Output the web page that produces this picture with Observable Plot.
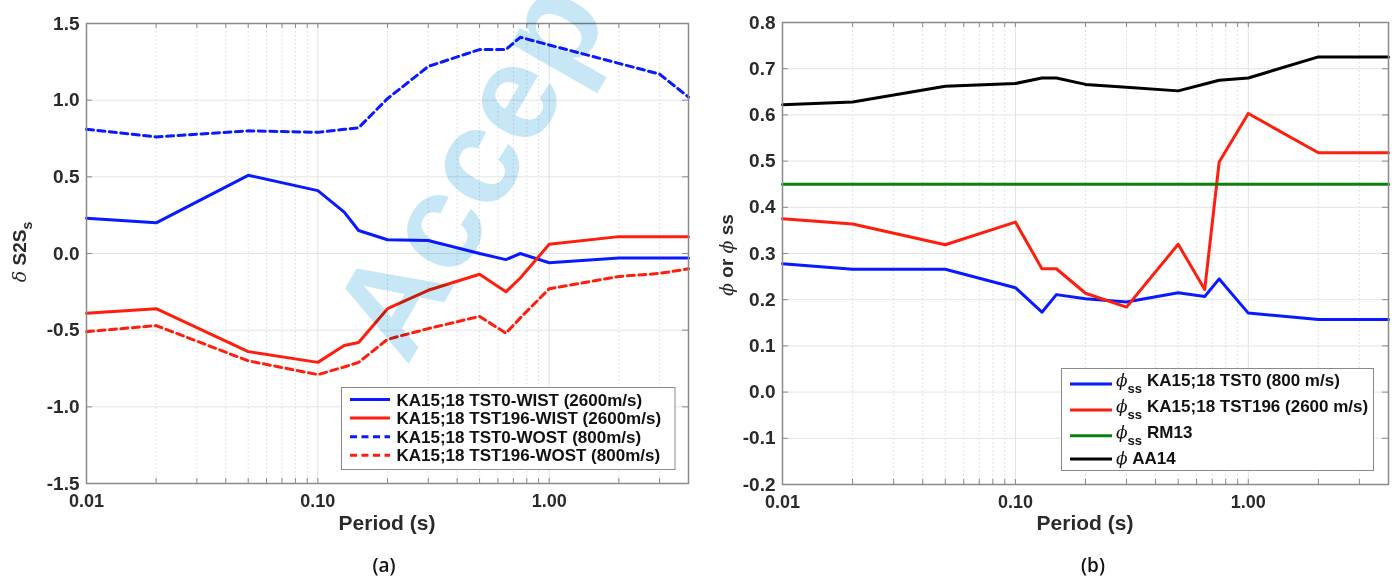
<!DOCTYPE html>
<html><head><meta charset="utf-8">
<script src="https://cdn.jsdelivr.net/npm/d3@7"></script>
<script src="https://cdn.jsdelivr.net/npm/@observablehq/plot@0.6"></script>
<style>
html,body{margin:0;padding:0;background:#fff;}
#root{position:relative;width:1397px;height:577px;overflow:hidden;font-family:"Liberation Sans",Arial,Helvetica,sans-serif;}
#root svg{position:absolute;top:0;}
#root svg text{font-weight:bold;}
</style></head><body><div id="root"></div>
<script>
// ---------- data ----------
const periods = [0.01, 0.02, 0.05, 0.1, 0.13, 0.15, 0.2, 0.3, 0.5, 0.65, 0.75, 1, 2, 3, 4];

// panel (a): delta S2S_s
const tst0Wist   = [0.23, 0.20, 0.51, 0.41, 0.27, 0.15, 0.09, 0.085, 0.0, -0.04, 0.0, -0.06, -0.03, -0.03, -0.03];
const tst196Wist = [-0.39, -0.36, -0.64, -0.71, -0.60, -0.58, -0.36, -0.24, -0.135, -0.25, -0.16, 0.06, 0.11, 0.11, 0.11];
const tst0Wost   = [0.81, 0.76, 0.80, 0.79, 0.81, 0.82, 1.01, 1.22, 1.33, 1.33, 1.41, 1.36, 1.24, 1.17, 1.02];
const tst196Wost = [-0.51, -0.47, -0.70, -0.79, -0.74, -0.71, -0.56, -0.49, -0.41, -0.52, -0.42, -0.23, -0.15, -0.13, -0.10];
const namesA = ["KA15;18 TST0-WIST (2600m/s)", "KA15;18 TST196-WIST (2600m/s)", "KA15;18 TST0-WOST (800m/s)", "KA15;18 TST196-WOST (800m/s)"];

// panel (b): phi / phi_ss
const phiSsTst0   = [0.278, 0.266, 0.266, 0.226, 0.173, 0.211, 0.202, 0.195, 0.215, 0.207, 0.245, 0.171, 0.157, 0.157, 0.157];
const phiSsTst196 = [0.375, 0.364, 0.319, 0.368, 0.267, 0.267, 0.214, 0.184, 0.32, 0.222, 0.498, 0.603, 0.518, 0.518, 0.518];
const phiSsRm13   = [0.45, 0.45, 0.45, 0.45, 0.45, 0.45, 0.45, 0.45, 0.45, 0.45, 0.45, 0.45, 0.45, 0.45, 0.45];
const phiAa14     = [0.622, 0.628, 0.662, 0.668, 0.68, 0.68, 0.666, 0.66, 0.652, 0.667, 0.675, 0.68, 0.7255, 0.7255, 0.7255];
const namesB = ["KA15;18 TST0 (800 m/s)", "KA15;18 TST196 (2600 m/s)", "RM13", "AA14"];
const symB = ["ss", "ss", "ss", ""];

// axes
const xMajor = [0.01, 0.1, 1];
const xMinor = [0.02,0.03,0.04,0.05,0.06,0.07,0.08,0.09,0.2,0.3,0.4,0.5,0.6,0.7,0.8,0.9,2,3,4];
const yTicksA = [-1.5, -1.0, -0.5, 0.0, 0.5, 1.0, 1.5];
const yTicksB = [-0.2, -0.1, 0.0, 0.1, 0.2, 0.3, 0.4, 0.5, 0.6, 0.7, 0.8];

// ---------- styles ----------
const BLUE = "#0a1aff", RED = "#ff1e0e", GREEN = "#0b800b", BLACK = "#000000";
const stylesA = [{c: BLUE, d: null}, {c: RED, d: null}, {c: BLUE, d: "7,4.5"}, {c: RED, d: "7,4.5"}];
const stylesB = [{c: BLUE}, {c: RED}, {c: GREEN}, {c: BLACK}];
const FONT = '"Liberation Sans", Arial, Helvetica, sans-serif';
const TXT = "#2a2a2a";

const valuesA = [tst0Wist, tst196Wist, tst0Wost, tst196Wost];
const valuesB = [phiSsTst0, phiSsTst196, phiSsRm13, phiAa14];
const tableA = namesA.flatMap((n, k) => periods.map((p, i) => ({series: n, period: p, value: valuesA[k][i]})));
const tableB = namesB.flatMap((n, k) => periods.map((p, i) => ({series: n, period: p, value: valuesB[k][i]})));

function panel({width, left, mL, mR, mT, mB, yDomain, yTicks, table, names, styles}) {
  const fh = 577 - mT - mB, fw = width - mL - mR;
  const chart = Plot.plot({
    width, height: 577,
    marginLeft: mL, marginRight: mR, marginTop: mT, marginBottom: mB,
    x: {type: "log", domain: [0.01, 4]},
    y: {domain: yDomain},
    style: {fontFamily: FONT, background: "transparent", color: TXT},
    marks: [
      Plot.ruleX(xMinor, {stroke: "#d8d8d8", strokeDasharray: "1.5,2.5", strokeWidth: 1}),
      Plot.ruleX(xMajor, {stroke: "#e2e2e2", strokeWidth: 1}),
      Plot.ruleY(yTicks, {stroke: "#e4e4e4", strokeWidth: 1}),
      Plot.tickX(xMajor.concat(xMinor), {insetTop: fh - 5, stroke: "#8a8a8a", strokeWidth: 1}),
      Plot.tickX(xMajor.concat(xMinor), {insetBottom: fh - 5, stroke: "#8a8a8a", strokeWidth: 1}),
      Plot.tickY(yTicks, {insetRight: fw - 6, stroke: "#8a8a8a", strokeWidth: 1}),
      Plot.tickY(yTicks, {insetLeft: fw - 6, stroke: "#8a8a8a", strokeWidth: 1}),
      ...names.map((n, k) => Plot.line(table.filter(d => d.series === n), {
        x: "period", y: "value", stroke: styles[k].c, strokeWidth: 3,
        strokeDasharray: styles[k].d || undefined, strokeLinejoin: "round"
      })),
      Plot.frame({stroke: "#8a8a8a", strokeWidth: 1.5}),
      Plot.axisX({ticks: xMajor, tickFormat: d => d.toFixed(2), tickSize: 0, tickPadding: 11,
        fontSize: 18, fontWeight: "bold", fill: TXT, label: null}),
      Plot.axisY({ticks: yTicks, tickFormat: d => d.toFixed(1), tickSize: 0, tickPadding: 7,
        fontSize: 19, fontWeight: "bold", fill: TXT, label: null})
    ]
  });
  chart.style.left = left + "px";
  return chart;
}

const root = document.getElementById("root");
root.appendChild(panel({width: 698, left: 0, mL: 86, mR: 10, mT: 23, mB: 94,
  yDomain: [-1.5, 1.5], yTicks: yTicksA, table: tableA, names: namesA, styles: stylesA}));
root.appendChild(panel({width: 699, left: 698, mL: 84, mR: 9, mT: 22, mB: 93,
  yDomain: [-0.2, 0.8], yTicks: yTicksB, table: tableB, names: namesB, styles: stylesB}));

// ---------- labels & legends overlay ----------
const ov = d3.select(root).append("svg").attr("width", 1397).attr("height", 577)
  .style("left", "0px").style("font-family", FONT).style("pointer-events", "none");

// y label (a)
const yla = ov.append("text").attr("transform", "translate(26,252) rotate(-90)")
  .attr("text-anchor", "middle").attr("font-size", 19).attr("fill", TXT);
yla.append("tspan").attr("font-family", '"DejaVu Serif", serif').attr("font-style", "italic").attr("font-weight", "normal").text("δ");
yla.append("tspan").text(" S2S");
yla.append("tspan").attr("font-size", 14).attr("dy", 6).text("s");

// y label (b)
const ylb = ov.append("text").attr("transform", "translate(733,255) rotate(-90)")
  .attr("text-anchor", "middle").attr("font-size", 19).attr("fill", TXT);
ylb.append("tspan").attr("font-family", '"DejaVu Serif", serif').attr("font-style", "italic").attr("font-weight", "normal").text("ϕ");
ylb.append("tspan").text(" or ");
ylb.append("tspan").attr("font-family", '"DejaVu Serif", serif').attr("font-style", "italic").attr("font-weight", "normal").text("ϕ");
ylb.append("tspan").text(" ss");

// x labels
[[387, "Period (s)"], [1085, "Period (s)"]].forEach(([x, t]) =>
  ov.append("text").attr("x", x).attr("y", 530).attr("text-anchor", "middle")
    .attr("font-size", 21).attr("fill", TXT).text(t));
[[384, "(a)"], [1093, "(b)"]].forEach(([x, t]) =>
  ov.append("text").attr("x", x).attr("y", 572).attr("text-anchor", "middle")
    .attr("font-family", '"Open Sans", sans-serif').style("font-weight", "600")
    .attr("font-size", 19).attr("fill", "#111").text(t));

// legend (a)
const la = ov.append("g");
la.append("rect").attr("x", 341.5).attr("y", 387.5).attr("width", 333.5).attr("height", 82)
  .attr("fill", "#fff").attr("stroke", "#8a8a8a").attr("stroke-width", 1);
namesA.forEach((n, k) => {
  const y = 399.5 + k * 18.6;
  la.append("line").attr("x1", 350).attr("x2", 390).attr("y1", y).attr("y2", y)
    .attr("stroke", stylesA[k].c).attr("stroke-width", 3).attr("stroke-dasharray", stylesA[k].d);
  la.append("text").attr("x", 396.5).attr("y", y + 6).attr("font-size", 17).attr("fill", "#111").text(n);
});

// legend (b)
const lb = ov.append("g");
lb.append("rect").attr("x", 1061.5).attr("y", 368.5).attr("width", 312).attr("height", 102)
  .attr("fill", "#fff").attr("stroke", "#8a8a8a").attr("stroke-width", 1);
const rowLineY = [384, 410, 435.7, 459];
const rowTextY = [386, 412, 437.5, 464];
namesB.forEach((n, k) => {
  lb.append("line").attr("x1", 1070).attr("x2", 1112).attr("y1", rowLineY[k]).attr("y2", rowLineY[k])
    .attr("stroke", stylesB[k].c).attr("stroke-width", 3);
  const t = lb.append("text").attr("x", 1116).attr("y", rowTextY[k]).attr("font-size", 17).attr("fill", "#111");
  t.append("tspan").attr("font-family", '"DejaVu Serif", serif').attr("font-style", "italic").attr("font-weight", "normal").text("ϕ");
  if (symB[k]) {
    t.append("tspan").attr("font-size", 13).attr("dy", 7).text(symB[k]);
    t.append("tspan").attr("dy", -7).attr("dx", 5).text(n);
  } else {
    t.append("tspan").text(" " + n);
  }
});

// watermark overlay (the reference shows it running off the top edge)
const wm = d3.select(root).append("svg").attr("width", 1397).attr("height", 577)
  .style("left", "0px").style("mix-blend-mode", "multiply").style("pointer-events", "none");
wm.append("text").attr("x", 407).attr("y", 367).attr("transform", "rotate(-60 407 367)")
  .attr("font-family", FONT).attr("font-size", 135).attr("fill", "#c7e7f7").text("Accep");
</script></body></html>
